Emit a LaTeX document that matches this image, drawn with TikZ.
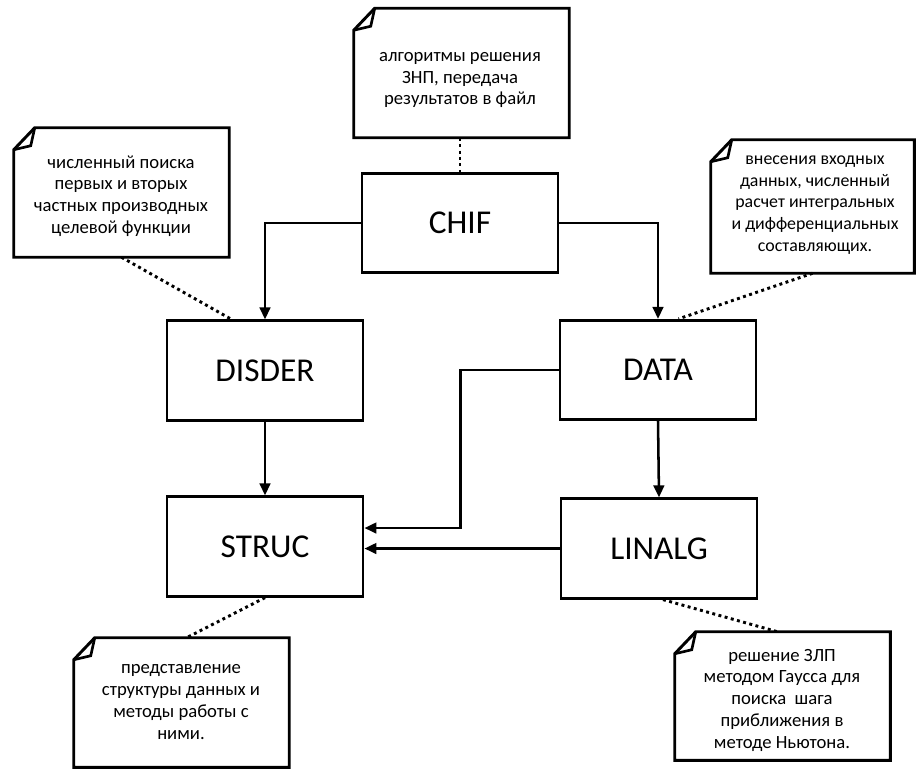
\documentclass[tikz,border=0pt]{standalone}
\usepackage{fontspec}
\setmainfont{Carlito}
\usetikzlibrary{arrows.meta,calc}
\begin{document}
\begin{tikzpicture}[x=0.75pt,y=-0.75pt,
  mbox/.style={draw,line width=2.2pt,minimum width=147pt,minimum height=74.5pt,inner sep=0pt,font=\fontsize{25}{29}\selectfont},
  note/.style={inner sep=0pt,minimum width=161.25pt,minimum height=96.75pt},
  notetext/.style={align=center,font=\fontsize{14}{16.3}\selectfont,inner sep=0pt},
  outline/.style={line width=2.2pt,line join=miter,fill=white},
  arr/.style={line width=1.9pt,-{Triangle[length=9pt,width=8pt]}},
  dots/.style={line width=2.2pt,dash pattern=on 2.2pt off 2.6pt}]
\useasboundingbox (0,0) rectangle (919,769);

% callout frames (positions)
\node[note] (nt) at (461.5,73) {};
\node[note] (nl) at (121.5,192.5) {};
\node[note,minimum width=152.25pt,minimum height=99.75pt] (nr) at (812.5,206.5) {};
\node[note] (nbl) at (181.5,702.5) {};
\node[note,minimum height=96pt] (nbr) at (782.5,696) {};

\foreach \n in {nt,nl,nr,nbl,nbr}{
  \draw[outline] ($(\n.north west)+(0,22)$) -- ($(\n.north west)+(21,0)$) -- (\n.north east) -- (\n.south east) -- (\n.south west) -- cycle;
  \draw[line width=2pt,line join=miter] ($(\n.north west)+(21,0)$) -- ($(\n.north west)+(17,18)$) -- ($(\n.north west)+(0,22)$);
}

\node[notetext] (tt) at (460,80) {алгоритмы решения\\ЗНП, передача\\результатов в файл};
\node[notetext] (tl) at (121,196) {численный поиска\\первых и вторых\\частных производных\\целевой функции};
\node[notetext,font=\fontsize{13.4}{16.3}\selectfont] (tr) at (815,205) {внесения входных\\данных, численный\\расчет интегральных\\и дифференциальных\\составляющих.};
\node[notetext] (tbl) at (181,702) {представление\\структуры данных и\\методы работы с\\ними.};
\node[notetext] (tbr) at (782,700) {решение ЗЛП\\методом Гаусса для\\поиска\ \ шага\\приближения в\\методе Ньютона.};

% main boxes
\node[mbox] (chif) at (460,223) {CHIF};
\node[mbox] (disder) at (265,370.5) {DISDER};
\node[mbox] (data) at (658,370) {DATA};
\node[mbox] (struc) at (265,546.5) {STRUC};
\node[mbox] (linalg) at (659,548.5) {LINALG};

% connectors
\draw[arr] (chif.west) -| (disder.north);
\draw[arr] (chif.east) -| (data.north);
\draw[arr] (disder.south) -- (struc.north);
\draw[arr] (data.south) -- (linalg.north);
\draw[arr] (data.west) -- ++(-98,0) |- ($(struc.east)+(0,-18.5)$);
\draw[arr] (linalg.west) -- (linalg.west -| struc.east);

% dotted links
\draw[dots] (nt.south -| chif.north) -- (chif.north);
\draw[dots] (nl.south) -- ($(disder.north west)+(66,0)$);
\draw[dots] (nr.south) -- ($(data.north west)+(120,0)$);
\draw[dots] (struc.south) -- ($(nbl.north)+(5,0)$);
\draw[dots] ($(linalg.south)+(4,0)$) -- ($(nbr.north)+(-5,0)$);
\end{tikzpicture}
\end{document}
